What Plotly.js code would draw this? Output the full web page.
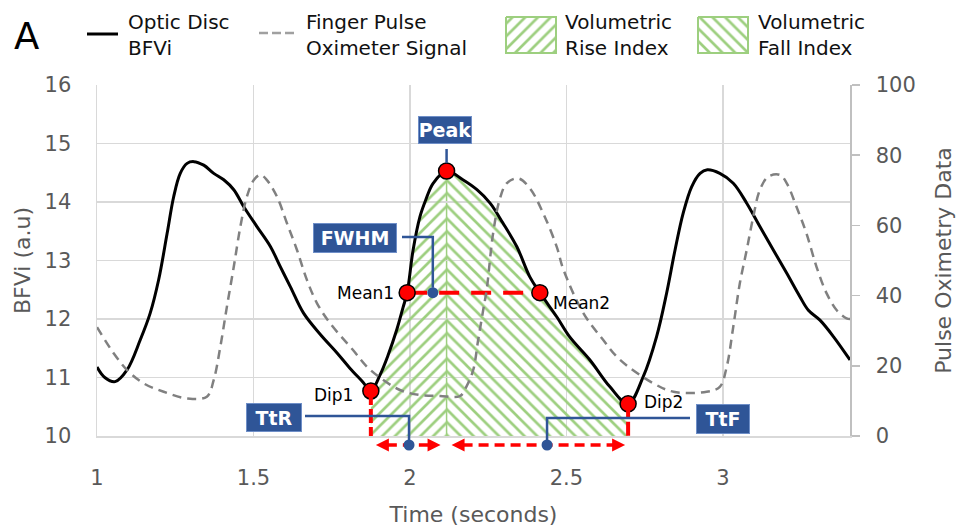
<!DOCTYPE html>
<html><head><meta charset="utf-8">
<script src="https://cdn.plot.ly/plotly-3.0.1.min.js"></script>
<style>html,body{margin:0;padding:0;background:#fff}#chart{width:960px;height:531px}</style>
</head><body><div id="chart"></div>
<script>
// ---------- DATA ----------
// Optic disc BFVi (left axis, a.u.)
const bfviTime  = [1.000,1.025,1.058,1.096,1.138,1.170,1.197,1.224,1.245,1.266,1.288,1.309,1.341,1.373,1.405,1.437,1.469,1.511,1.554,1.586,1.618,1.660,1.713,1.767,1.808,1.850,1.875,1.904,1.930,1.958,1.978,1.991,2.010,2.032,2.050,2.074,2.117,2.169,2.214,2.256,2.297,2.342,2.383,2.415,2.470,2.511,2.575,2.639,2.697,2.745,2.788,2.820,2.847,2.873,2.900,2.927,2.950,2.990,3.033,3.076,3.118,3.161,3.204,3.246,3.273,3.310,3.353,3.406];
const bfviValue = [11.18,11.00,10.93,11.13,11.64,12.10,12.67,13.46,14.09,14.49,14.66,14.69,14.63,14.49,14.38,14.21,13.92,13.58,13.24,12.89,12.55,12.10,11.74,11.42,11.16,10.92,10.77,11.04,11.38,11.82,12.20,12.45,13.18,13.75,14.03,14.32,14.53,14.38,14.21,13.98,13.64,13.23,12.72,12.45,12.03,11.69,11.30,10.84,10.55,11.01,11.70,12.44,13.18,13.81,14.26,14.49,14.55,14.49,14.32,13.98,13.58,13.18,12.78,12.38,12.15,11.98,11.70,11.30];
// Finger pulse oximeter signal (right axis)
const pulseTime  = [1.000,1.053,1.096,1.149,1.213,1.288,1.351,1.373,1.394,1.415,1.437,1.458,1.479,1.501,1.522,1.543,1.575,1.607,1.639,1.671,1.703,1.745,1.818,1.863,1.914,1.968,2.030,2.096,2.160,2.180,2.202,2.218,2.234,2.245,2.266,2.287,2.309,2.346,2.383,2.426,2.469,2.490,2.554,2.617,2.671,2.778,2.842,2.948,2.990,3.012,3.033,3.054,3.076,3.097,3.118,3.145,3.182,3.204,3.235,3.267,3.299,3.331,3.363,3.395,3.406];
const pulseValue = [31.0,23.6,18.8,15.0,12.6,10.7,11.2,16.0,25.4,36.8,48.2,59.6,68.2,72.9,74.4,72.9,68.2,60.6,53.0,44.4,37.8,32.1,24.5,19.7,16.0,13.1,11.7,11.4,11.4,14.0,18.8,27.4,35.9,41.6,58.0,67.5,72.0,73.4,70.6,63.4,53.9,47.5,35.0,27.4,21.7,15.0,12.6,12.6,14.0,19.7,31.1,43.5,53.0,62.5,70.1,73.9,74.4,72.0,65.3,57.7,48.2,40.7,35.9,33.5,33.3];
// Key points on the BFVi waveform
const keyNames = ['Dip1','Mean1','Peak','Mean2','Dip2'];
const keyTime  = [1.875,1.991,2.117,2.415,2.697];
const keyValue = [10.77,12.45,14.53,12.45,10.55];
// Blue reference dots: FWHM, TtR, TtF
const refNames = ['FWHM','TtR','TtF'];
const refTime  = [2.073,1.997,2.438];
// Ticks
const xTicks = [1,1.5,2,2.5,3];
const yLeftTicks = [10,11,12,13,14,15,16];
const yRightTicks = [0,20,40,60,80,100];
// Legend labels
const legendLabels = ['Optic Disc<br>BFVi','Finger Pulse<br>Oximeter Signal','Volumetric<br>Rise Index','Volumetric<br>Fall Index'];

// ---------- LAYOUT HELPERS ----------
const FONT = 'DejaVu Sans';
const GREEN = '#9dcf7f', RED = '#ff0000', BLUE = '#2f5597', GREY = '#595959';
const X0 = 1, X1 = 3.406, Y0 = 10, Y1 = 16;
const PX = p => (p - 97) / 753;          // pixel -> paper x
const PY = p => (436 - p) / 436;         // pixel -> paper y
const dx = p => p * (X1 - X0) / 753;     // pixel distance -> data x
const dy = p => p * (Y1 - Y0) / 351;     // pixel distance -> data y
const SM = 1;

const iDip1 = bfviTime.indexOf(keyTime[0]);
const iPeak = bfviTime.indexOf(keyTime[2]);
const iDip2 = bfviTime.indexOf(keyTime[4]);

const traces = [];
// rise / fall hatched areas
traces.push({x: bfviTime.slice(iDip1, iPeak + 1), y: bfviValue.slice(iDip1, iPeak + 1), type: 'scatter', mode: 'lines',
  fill: 'tozeroy', line: {width: 0, shape: 'spline', smoothing: SM}, fillcolor: 'rgba(0,0,0,0)',
  fillpattern: {shape: '/', fgcolor: GREEN, bgcolor: 'rgba(0,0,0,0)', size: 9, solidity: 0.3},
  hoverinfo: 'skip', showlegend: false});
traces.push({x: bfviTime.slice(iPeak, iDip2 + 1), y: bfviValue.slice(iPeak, iDip2 + 1), type: 'scatter', mode: 'lines',
  fill: 'tozeroy', line: {width: 0, shape: 'spline', smoothing: SM}, fillcolor: 'rgba(0,0,0,0)',
  fillpattern: {shape: '\\', fgcolor: GREEN, bgcolor: 'rgba(0,0,0,0)', size: 9, solidity: 0.3},
  hoverinfo: 'skip', showlegend: false});
// pulse oximeter dashed
traces.push({x: pulseTime, y: pulseValue, yaxis: 'y2', type: 'scatter', mode: 'lines',
  line: {color: '#808080', width: 2.5, dash: '9px,6px', shape: 'spline', smoothing: SM}, hoverinfo: 'skip', showlegend: false});
// BFVi
traces.push({x: bfviTime, y: bfviValue, type: 'scatter', mode: 'lines',
  line: {color: '#000000', width: 3, shape: 'spline', smoothing: SM}, hoverinfo: 'skip', showlegend: false});
// mean dashed red line
traces.push({x: [keyTime[1], keyTime[3]], y: [keyValue[1], keyValue[3]], type: 'scatter', mode: 'lines',
  line: {color: RED, width: 4, dash: '20px,12px'}, hoverinfo: 'skip', showlegend: false});
// FWHM blue dot
traces.push({x: [refTime[0]], y: [keyValue[1]], type: 'scatter', mode: 'markers',
  marker: {color: BLUE, size: 11}, hoverinfo: 'skip', showlegend: false});
// red key markers
traces.push({x: keyTime, y: keyValue, type: 'scatter', mode: 'markers', cliponaxis: false,
  marker: {color: RED, size: 16, line: {color: '#000', width: 1.5}}, hoverinfo: 'skip', showlegend: false});
// legend swatches (on a pixel-scaled helper axis above the plot)
[[506, '/'], [698, '\\']].forEach(([left, sh]) => {
  traces.push({x: [left, left + 50, left + 50, left, left], y: [17, 17, 53, 53, 17], xaxis: 'x3', yaxis: 'y3',
    type: 'scatter', mode: 'lines', fill: 'toself', fillcolor: 'rgba(0,0,0,0)',
    line: {color: GREEN, width: 2},
    fillpattern: {shape: sh, fgcolor: GREEN, bgcolor: 'rgba(0,0,0,0)', size: 9, solidity: 0.3},
    hoverinfo: 'skip', showlegend: false});
});

const shapes = [];
// vertical green separator at the peak
shapes.push({type: 'line', xref: 'x', yref: 'y', x0: keyTime[2], x1: keyTime[2], y0: Y0, y1: keyValue[2], layer: 'below', line: {color: GREEN, width: 1.5}});
// red verticals at dips
[0, 4].forEach(i => shapes.push({type: 'line', xref: 'x', yref: 'y', x0: keyTime[i], x1: keyTime[i], y0: keyValue[i], y1: Y0,
  line: {color: RED, width: 4, dash: '14px,4px'}}));
// red dashed double arrows (TtR: Dip1->Peak, TtF: Peak->Dip2)
const arrowY = PY(445);
const tipL = [keyTime[0] + dx(5), keyTime[2] + dx(5)];
const tipR = [keyTime[2] - dx(6), keyTime[4] - dx(3)];
for (let k = 0; k < 2; k++) {
  shapes.push({type: 'line', xref: 'x', yref: 'paper', x0: tipL[k] + dx(11), x1: tipR[k] - dx(11), y0: arrowY, y1: arrowY,
    line: {color: RED, width: 3.5, dash: '10px,6px'}});
  shapes.push({type: 'path', xref: 'x', yref: 'paper', xsizemode: 'pixel', ysizemode: 'pixel', xanchor: tipL[k], yanchor: arrowY,
    path: 'M0,0 L13,6.5 L13,-6.5 Z', fillcolor: RED, line: {width: 0}});
  shapes.push({type: 'path', xref: 'x', yref: 'paper', xsizemode: 'pixel', ysizemode: 'pixel', xanchor: tipR[k], yanchor: arrowY,
    path: 'M0,0 L-13,6.5 L-13,-6.5 Z', fillcolor: RED, line: {width: 0}});
}
// blue connectors
const bl = {color: BLUE, width: 2.5};
shapes.push({type: 'line', xref: 'x', yref: 'y', x0: keyTime[2], x1: keyTime[2], y0: keyValue[2] + dy(8), y1: keyValue[2] + dy(22), line: bl});
shapes.push({type: 'path', xref: 'x', yref: 'y', path: `M${1 + dx(402 - 97)},${Y0 + dy(436 - 237)} H${refTime[0]} V${keyValue[1] + dy(5)}`, line: bl});
shapes.push({type: 'path', xref: 'x', yref: 'paper', path: `M${1 + dx(305 - 97)},${PY(416)} H${refTime[1]} V${PY(442)}`, line: bl});
shapes.push({type: 'path', xref: 'x', yref: 'paper', path: `M${1 + dx(690 - 97)},${PY(418)} H${refTime[2]} V${PY(442)}`, line: bl});
// blue dots for TtR / TtF (below the axis)
[1, 2].forEach(i => shapes.push({type: 'circle', xref: 'x', yref: 'paper', xsizemode: 'pixel', ysizemode: 'pixel',
  xanchor: refTime[i], yanchor: arrowY, x0: -5.5, x1: 5.5, y0: -5.5, y1: 5.5, fillcolor: BLUE, line: {width: 0}}));
// legend line samples
shapes.push({type: 'line', xref: 'paper', yref: 'paper', x0: PX(87), x1: PX(118), y0: PY(34), y1: PY(34), line: {color: '#000', width: 3}});
shapes.push({type: 'line', xref: 'paper', yref: 'paper', x0: PX(259), x1: PX(297), y0: PY(33), y1: PY(33), line: {color: '#a0a0a0', width: 2.5, dash: '9px,4px'}});

const annotations = [];
annotations.push({xref: 'paper', yref: 'paper', x: PX(12), y: PY(37), xanchor: 'left', yanchor: 'middle', text: 'A', showarrow: false, font: {family: FONT, size: 37, color: '#000'}});
[126, 304, 563, 756].forEach((left, i) => annotations.push({xref: 'paper', yref: 'paper', x: PX(left), y: PY(35), xanchor: 'left', yanchor: 'middle',
  align: 'left', text: legendLabels[i], showarrow: false, font: {family: FONT, size: 20, color: '#111'}}));
// key point labels
const lbl = {family: FONT, size: 17, color: '#000'};
annotations.push({x: keyTime[1] - dx(11), y: keyValue[1], xanchor: 'right', yanchor: 'middle', text: keyNames[1], showarrow: false, font: lbl});
annotations.push({x: keyTime[3] + dx(11), y: keyValue[3] - dy(10), xanchor: 'left', yanchor: 'middle', text: keyNames[3], showarrow: false, font: lbl});
annotations.push({x: keyTime[0] - dx(16), y: keyValue[0] - dy(4), xanchor: 'right', yanchor: 'middle', text: keyNames[0], showarrow: false, font: lbl});
annotations.push({x: keyTime[4] + dx(14), y: keyValue[4] + dy(2), xanchor: 'left', yanchor: 'middle', text: keyNames[4], showarrow: false, font: lbl});
// blue boxes
const box = (text, cx, cy, w, h) => ({xref: 'paper', yref: 'paper', x: PX(cx), y: PY(cy), xanchor: 'center', yanchor: 'middle',
  text: '<b>' + text + '</b>', showarrow: false, bgcolor: BLUE, bordercolor: '#6f8fc8', borderwidth: 1, borderpad: 0, width: w, height: h,
  font: {family: FONT, size: 19, color: '#fff'}});
annotations.push(box(keyNames[2], 445, 130, 52, 26));
annotations.push(box(refNames[0], 355, 238, 82, 28));
annotations.push(box(refNames[1], 274, 417, 54, 27));
annotations.push(box(refNames[2], 723, 419, 52, 28));

const tickFont = {family: FONT, size: 21, color: GREY};
const titleFont = {family: FONT, size: 22, color: GREY};
const layout = {
  width: 960, height: 531,
  margin: {l: 97, r: 110, t: 0, b: 95},
  paper_bgcolor: '#fff', plot_bgcolor: 'rgba(0,0,0,0)',
  showlegend: false,
  xaxis: {domain: [0, 1], range: [X0, X1], tickvals: xTicks, ticks: '', showgrid: true, gridcolor: '#d9d9d9', gridwidth: 1.5,
    showline: true, linecolor: '#d9d9d9', linewidth: 1.5, zeroline: false, tickfont: tickFont, ticklabelstandoff: 22,
    title: {text: 'Time (seconds)', font: titleFont, standoff: 18}, anchor: 'y', fixedrange: true},
  yaxis: {domain: [0, 351 / 436], range: [Y0, Y1], tickvals: yLeftTicks, ticks: '', showgrid: true, gridcolor: '#d9d9d9', gridwidth: 1.5,
    showline: true, linecolor: '#d9d9d9', linewidth: 1.5, zeroline: false, tickfont: tickFont, ticklabelstandoff: 20,
    title: {text: 'BFVi (a.u)', font: titleFont, standoff: 8}, anchor: 'x', fixedrange: true},
  yaxis2: {overlaying: 'y', side: 'right', anchor: 'x', range: [0, 100], tickvals: yRightTicks, showgrid: false, zeroline: false,
    showline: true, linecolor: '#c0c0c0', linewidth: 1.5, ticks: 'outside', ticklen: 8, tickwidth: 1.5, tickcolor: '#c0c0c0',
    tickfont: tickFont, ticklabelstandoff: 12, title: {text: 'Pulse Oximetry Data', font: titleFont, standoff: 21}, fixedrange: true},
  xaxis3: {domain: [0, 1], range: [97, 850], anchor: 'y3', visible: false, fixedrange: true},
  yaxis3: {domain: [351 / 436, 1], range: [85, 0], anchor: 'x3', visible: false, fixedrange: true},
  shapes: shapes,
  annotations: annotations
};
Plotly.newPlot('chart', traces, layout, {staticPlot: true, displayModeBar: false});
</script></body></html>
